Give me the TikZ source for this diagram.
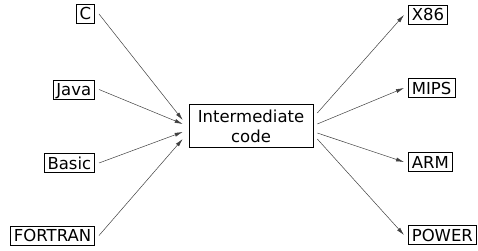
\documentclass[tikz,border=0pt]{standalone}
\usepackage{fontspec}
\setmainfont{DejaVu Sans}
\usetikzlibrary{arrows.meta}

\tikzset{lang/.style={draw,line width=0.6pt,inner xsep=3.5pt,inner ysep=3.5pt,
    text height=12pt,text depth=0pt},
  feed/.style={->,draw=black!75,line width=0.5pt}}

\begin{document}
\begin{tikzpicture}[x=1pt,y=-1pt,font=\fontsize{16.5}{20}\selectfont,
    >={Latex[length=8pt,width=4pt]}]

  \useasboundingbox (0,0) rectangle (478,251);

  % middle box
  \node[draw,line width=0.6pt,align=center,minimum width=124pt,inner ysep=5pt]
    (ic) at (251,126) {Intermediate\\code};

  % source languages
  \node[lang,anchor=east] (c) at (95,14) {C};
  \node[lang,anchor=east] (java) at (95,89.5) {Java};
  \node[lang,anchor=east] (basic) at (95,163) {Basic};
  \node[lang,anchor=east] (fortran) at (95,235.5) {FORTRAN};

  % targets
  \node[lang,anchor=west] (x86) at (408,15) {X86};
  \node[lang,anchor=west] (mips) at (408,88) {MIPS};
  \node[lang,anchor=west] (arm) at (408,162) {ARM};
  \node[lang,anchor=west] (power) at (408,235) {POWER};

  \foreach \src/\dy in {c/6,java/2,basic/-6,fortran/-13}
    \draw[feed] ([xshift=4pt]\src.east) -- ([xshift=-6pt,yshift=\dy pt]ic.west);
  \foreach \dst/\dy in {x86/13,mips/2,arm/-7,power/-13}
    \draw[feed] ([xshift=4pt,yshift=\dy pt]ic.east) -- ([xshift=-4pt]\dst.west);

\end{tikzpicture}
\end{document}
